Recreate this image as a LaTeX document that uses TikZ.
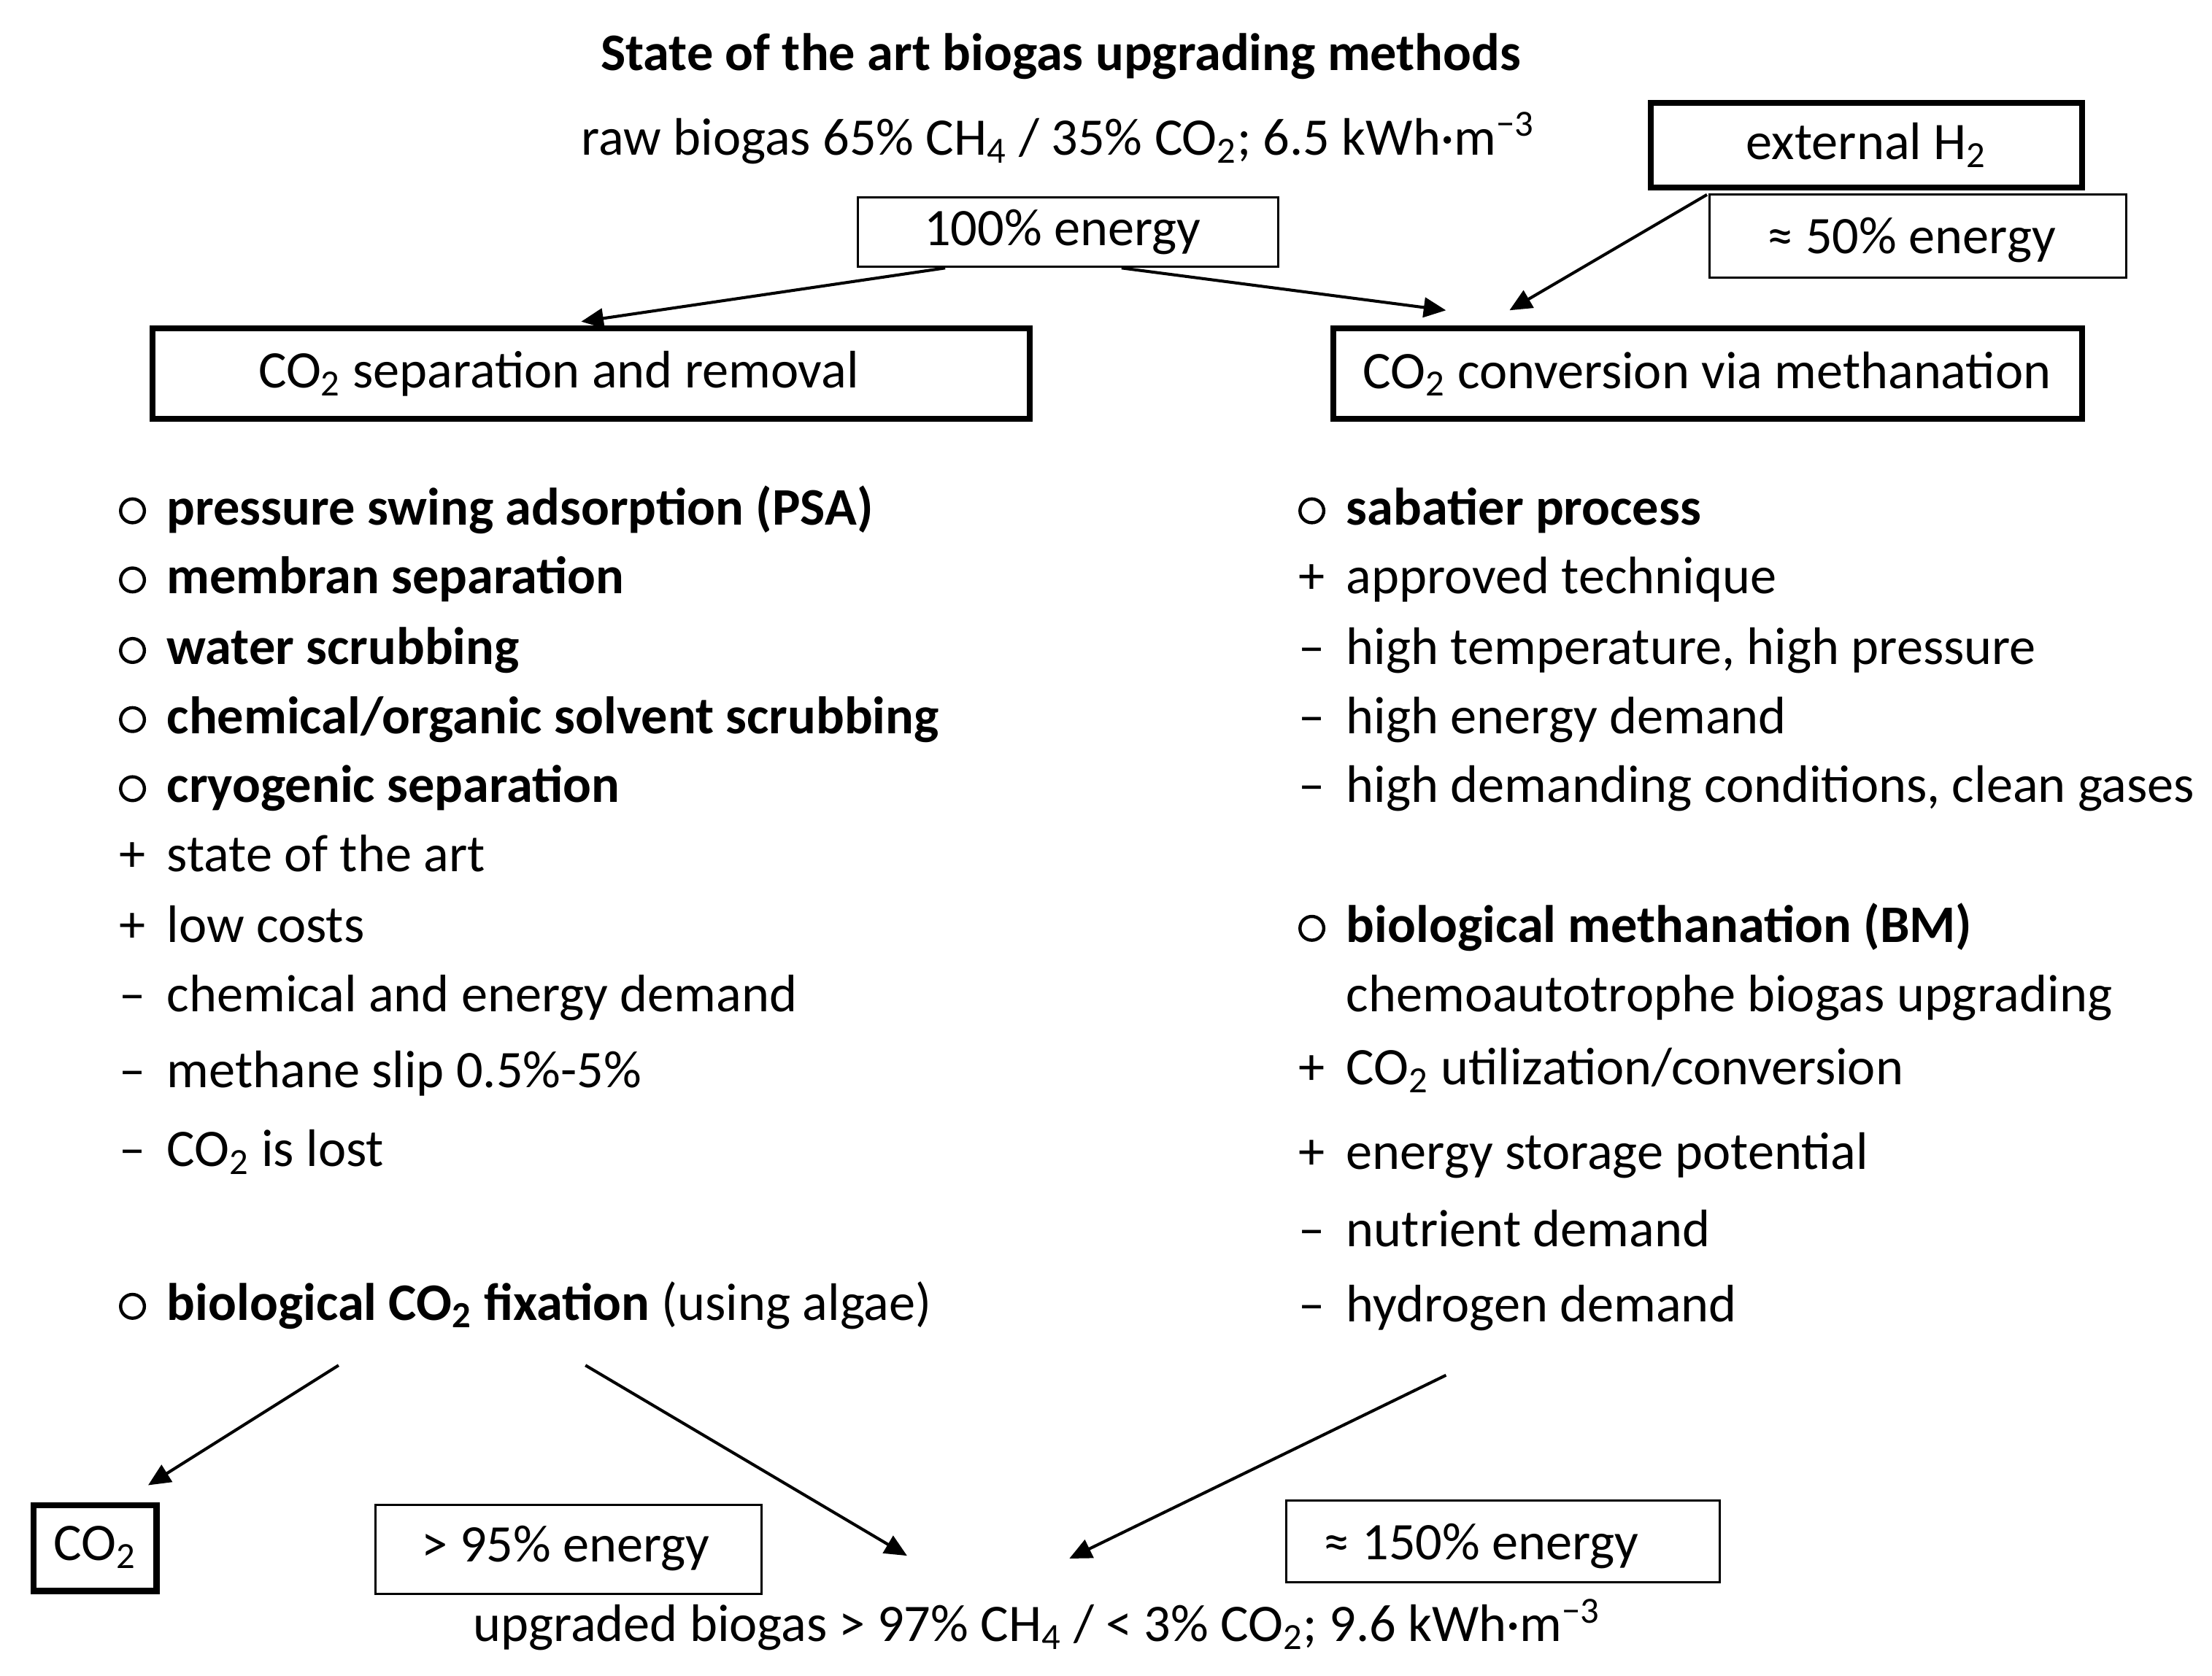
\documentclass[tikz,border=0pt]{standalone}
\usepackage{fontspec}
\setmainfont{Carlito}
\usetikzlibrary{arrows.meta}
\newcommand\bul{\tikz[baseline=-0.55ex]\draw[line width=1.3pt](0,0) circle (4.8pt);}
\newcommand\sbs[1]{\textsubscript{#1}}
\newcommand\sps[1]{\textsuperscript{#1}}
\begin{document}
\begin{tikzpicture}[x=0.02cm,y=-0.02cm,
  every node/.style={font=\fontsize{21.3}{24}\selectfont},
  thinbox/.style={draw,line width=0.9pt},
  thickbox/.style={draw,line width=2.4pt},
  arr/.style={-{Triangle[length=9pt,width=8pt]},line width=1.2pt},
  it/.style={anchor=base west,inner sep=0}]
\useasboundingbox (0,0) rectangle (1568,1188);
\node (title) at (752,40) {\bfseries State of the art biogas upgrading methods};
\node (raw) at (750,98) {raw biogas 65\% CH\sbs{4} / 35\% CO\sbs{2}; 6.5 kWh·m\sps{−3}};
\draw[thinbox] (608,140) rectangle (906,189); \node (e100) at (753,164.5) {100\% energy};
\draw[thickbox] (1170,73) rectangle (1476,133); \node (h2) at (1323,103) {external H\sbs{2}};
\draw[thinbox] (1212,138) rectangle (1507,197); \node (e50) at (1355,170) {≈ 50\% energy};
\draw[thickbox] (108,233) rectangle (730,297); \node (sep) at (396,265) {CO\sbs{2} separation and removal};
\draw[thickbox] (945,233) rectangle (1476,297); \node (conv) at (1210,265) {CO\sbs{2} conversion via methanation};
\coordinate (a1) at (670,190); \coordinate (a1e) at (412,228);
\coordinate (a2) at (795,190); \coordinate (a2e) at (1025,220);
\coordinate (a3) at (1210,138); \coordinate (a3e) at (1070,220);
\draw[arr] (a1) -- (a1e); \draw[arr] (a2) -- (a2e); \draw[arr] (a3) -- (a3e);
% left list
\foreach \y/\s/\t in {372/\bul/{\bfseries pressure swing adsorption (PSA)},
  421/\bul/{\bfseries membran separation},
  471/\bul/{\bfseries water scrubbing},
  520/\bul/{\bfseries chemical/organic solvent scrubbing},
  569/\bul/{\bfseries cryogenic separation},
  618/+/{state of the art},
  668/+/{low costs},
  717/–/{chemical and energy demand},
  771/–/{methane slip 0.5\%-5\%},
  827/–/{CO\sbs{2} is lost},
  936/\bul/{{\bfseries biological CO\sbs{2} fixation} (using algae)}}
  {\node[it] at (84,\y) {\s}; \node[it] at (118,\y) {\t};}
% right list
\foreach \y/\s/\t in {372/\bul/{\bfseries sabatier process},
  421/+/{approved technique},
  471/–/{high temperature, high pressure},
  520/–/{high energy demand},
  569/–/{high demanding conditions, clean gases},
  668/\bul/{\bfseries biological methanation (BM)},
  717//{chemoautotrophe biogas upgrading},
  769/+/{CO\sbs{2} utilization/conversion},
  829/+/{energy storage potential},
  884/–/{nutrient demand},
  937/–/{hydrogen demand}}
  {\node[it] at (920,\y) {\s}; \node[it] at (954,\y) {\t};}
\coordinate (b1) at (240,968); \coordinate (b1e) at (105,1053);
\coordinate (b2) at (415,968); \coordinate (b2e) at (643,1103);
\coordinate (b3) at (1025,975); \coordinate (b3e) at (758,1105);
\draw[arr] (b1) -- (b1e); \draw[arr] (b2) -- (b2e); \draw[arr] (b3) -- (b3e);
\draw[thickbox] (24,1067) rectangle (111,1128); \node (co2) at (67.5,1097) {CO\sbs{2}};
\draw[thinbox] (266,1067) rectangle (540,1130); \node (e95) at (401,1098) {> 95\% energy};
\draw[thinbox] (912,1064) rectangle (1219,1122); \node (e150) at (1050,1096) {≈ 150\% energy};
\node (up) at (735,1152) {upgraded biogas > 97\% CH\sbs{4} / < 3\% CO\sbs{2}; 9.6 kWh·m\sps{−3}};
\end{tikzpicture}
\end{document}
